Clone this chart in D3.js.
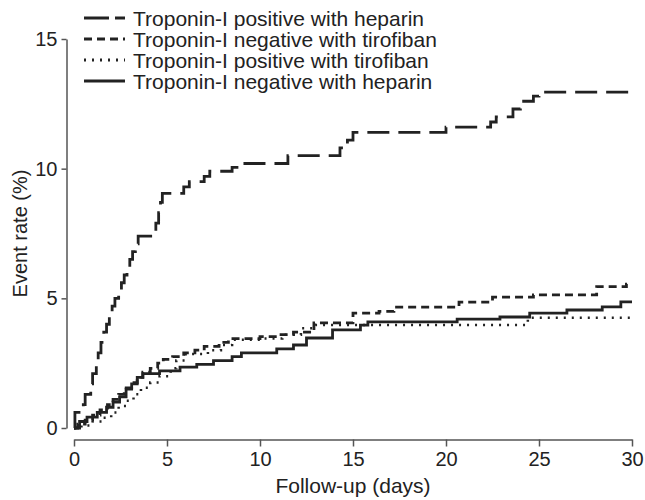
<!DOCTYPE html>
<html>
<head>
<meta charset="utf-8">
<script src="https://cdn.jsdelivr.net/npm/d3@7"></script>
<style>
  body { margin: 0; background: #fff; }
  text { font-family: "Liberation Sans", Arial, sans-serif; fill: #222; }
</style>
</head>
<body>
<div id="chart"></div>
<script>
// tick values
const xTicks = [0, 5, 10, 15, 20, 25, 30];
const yTicks = [0, 5, 10, 15];

// legend labels, in legend order
const seriesNames = [
  "Troponin-I positive with heparin",
  "Troponin-I negative with tirofiban",
  "Troponin-I positive with tirofiban",
  "Troponin-I negative with heparin"
];

// Troponin-I positive with heparin
const posHepDays  = [0, 0.05, 0.5, 0.6, 0.9, 1.0, 1.2, 1.3, 1.45, 1.6, 1.75, 1.9, 2.05, 2.2, 2.4, 2.55, 2.7, 2.85, 3.0, 3.15, 3.3, 3.45, 4.2, 4.4, 4.55, 4.65, 4.75, 5.9, 6.2, 7.0, 7.3, 8.5, 9.0, 11.5, 14.3, 14.7, 15.0, 20.0, 22.4, 22.7, 23.6, 24.0, 24.7, 25.0, 30];
const posHepRates = [0, 0.6, 0.9, 1.3, 1.7, 2.1, 2.5, 2.9, 3.3, 3.7, 4.0, 4.4, 4.7, 5.0, 5.3, 5.6, 5.9, 6.2, 6.5, 6.8, 7.1, 7.4, 7.6, 7.9, 8.3, 8.7, 9.05, 9.3, 9.5, 9.7, 9.9, 10.05, 10.2, 10.5, 10.8, 11.1, 11.4, 11.6, 11.8, 12.0, 12.3, 12.6, 12.8, 12.95, 12.95];

// Troponin-I negative with tirofiban
const negTiroDays  = [0, 0.2, 0.6, 1.0, 1.4, 1.8, 2.1, 2.4, 2.7, 3.1, 3.4, 3.7, 4.1, 4.5, 4.8, 5.3, 5.9, 6.5, 7.0, 7.8, 8.3, 10.0, 11.0, 11.8, 12.9, 15.0, 16.4, 17.2, 20.7, 22.5, 24.7, 28.1, 29.7, 30];
const negTiroRates = [0, 0.15, 0.3, 0.5, 0.7, 0.9, 1.1, 1.3, 1.55, 1.75, 1.95, 2.15, 2.3, 2.5, 2.65, 2.75, 2.9, 3.0, 3.15, 3.3, 3.45, 3.52, 3.6, 3.7, 4.05, 4.43, 4.5, 4.66, 4.85, 5.05, 5.13, 5.45, 5.55, 5.55];

// Troponin-I positive with tirofiban
const posTiroDays  = [0, 0.4, 1.0, 1.5, 2.0, 2.4, 2.8, 3.2, 3.6, 4.1, 4.6, 5.2, 5.5, 6.0, 7.2, 7.9, 8.5, 10.2, 11.2, 12.2, 13.0, 24.4, 29.9];
const posTiroRates = [0, 0.1, 0.25, 0.4, 0.6, 0.85, 1.05, 1.3, 1.55, 1.75, 2.0, 2.3, 2.6, 2.85, 3.0, 3.2, 3.4, 3.45, 3.6, 3.85, 3.97, 4.25, 4.25];

// Troponin-I negative with heparin
const negHepDays  = [0, 0.3, 0.7, 1.25, 1.75, 2.1, 2.45, 2.8, 3.1, 3.4, 3.7, 4.6, 5.7, 6.6, 7.5, 8.5, 9.0, 10.9, 11.8, 12.5, 13.9, 15.4, 15.8, 20.6, 22.9, 24.5, 26.5, 28.4, 29.4, 30];
const negHepRates = [0, 0.25, 0.42, 0.6, 0.8, 1.0, 1.2, 1.5, 1.7, 1.95, 2.1, 2.2, 2.35, 2.45, 2.6, 2.75, 2.9, 3.05, 3.2, 3.47, 3.78, 3.97, 4.09, 4.2, 4.28, 4.43, 4.55, 4.67, 4.86, 4.86];

const dashes = ["22,9", "8,5", "2,6", null];

const svg = d3.select("#chart").append("svg")
  .attr("width", 645)
  .attr("height", 500);

// scales
const x = d3.scaleLinear().domain([0, 30]).range([74, 632]);
const y = d3.scaleLinear().domain([0, 15]).range([428, 39]);

// y axis (offset from x axis)
const yAxis = svg.append("g")
  .attr("transform", "translate(66.5,0)")
  .call(d3.axisLeft(y).tickValues(yTicks).tickSize(5).tickPadding(4).tickSizeOuter(0));
yAxis.select(".domain").attr("stroke", "#555").attr("stroke-width", 1.5);
yAxis.selectAll(".tick line").attr("stroke", "#555").attr("stroke-width", 1.5);
yAxis.selectAll("text").attr("font-size", 20).attr("font-family", null);

// x axis
const xAxis = svg.append("g")
  .attr("transform", "translate(0,439.5)")
  .call(d3.axisBottom(x).tickValues(xTicks).tickSize(7).tickPadding(5).tickSizeOuter(0));
xAxis.select(".domain").attr("stroke", "#555").attr("stroke-width", 1.5);
xAxis.selectAll(".tick line").attr("stroke", "#555").attr("stroke-width", 1.5);
xAxis.selectAll("text").attr("font-size", 20).attr("font-family", null);

// axis titles
svg.append("text")
  .attr("x", x(15)).attr("y", 493)
  .attr("text-anchor", "middle")
  .attr("font-size", 21)
  .text("Follow-up (days)");

svg.append("text")
  .attr("transform", `translate(27,${(y(0) + y(15)) / 2}) rotate(-90)`)
  .attr("text-anchor", "middle")
  .attr("font-size", 20)
  .text("Event rate (%)");

// step curves
const series = [
  [posHepDays, posHepRates],
  [negTiroDays, negTiroRates],
  [posTiroDays, posTiroRates],
  [negHepDays, negHepRates]
];

const line = d3.line()
  .x(d => x(d[0]))
  .y(d => y(d[1]))
  .curve(d3.curveStepAfter);

series.forEach(([days, rates], i) => {
  svg.append("path")
    .datum(days.map((d, j) => [d, rates[j]]))
    .attr("fill", "none")
    .attr("stroke", "#222")
    .attr("stroke-width", i === 2 ? 2.5 : 2.8)
    .attr("stroke-dasharray", dashes[i])
    .attr("d", line);
});

// legend
const legend = svg.append("g");
seriesNames.forEach((name, i) => {
  const cy = 18 + i * 21;
  legend.append("line")
    .attr("x1", 84).attr("x2", 125)
    .attr("y1", cy).attr("y2", cy)
    .attr("stroke", "#222")
    .attr("stroke-width", 2.8)
    .attr("stroke-dasharray", i === 0 ? "25,6" : dashes[i]);
  legend.append("text")
    .attr("x", 133).attr("y", cy + 7.5)
    .attr("font-size", 21)
    .text(name);
});
</script>
</body>
</html>
